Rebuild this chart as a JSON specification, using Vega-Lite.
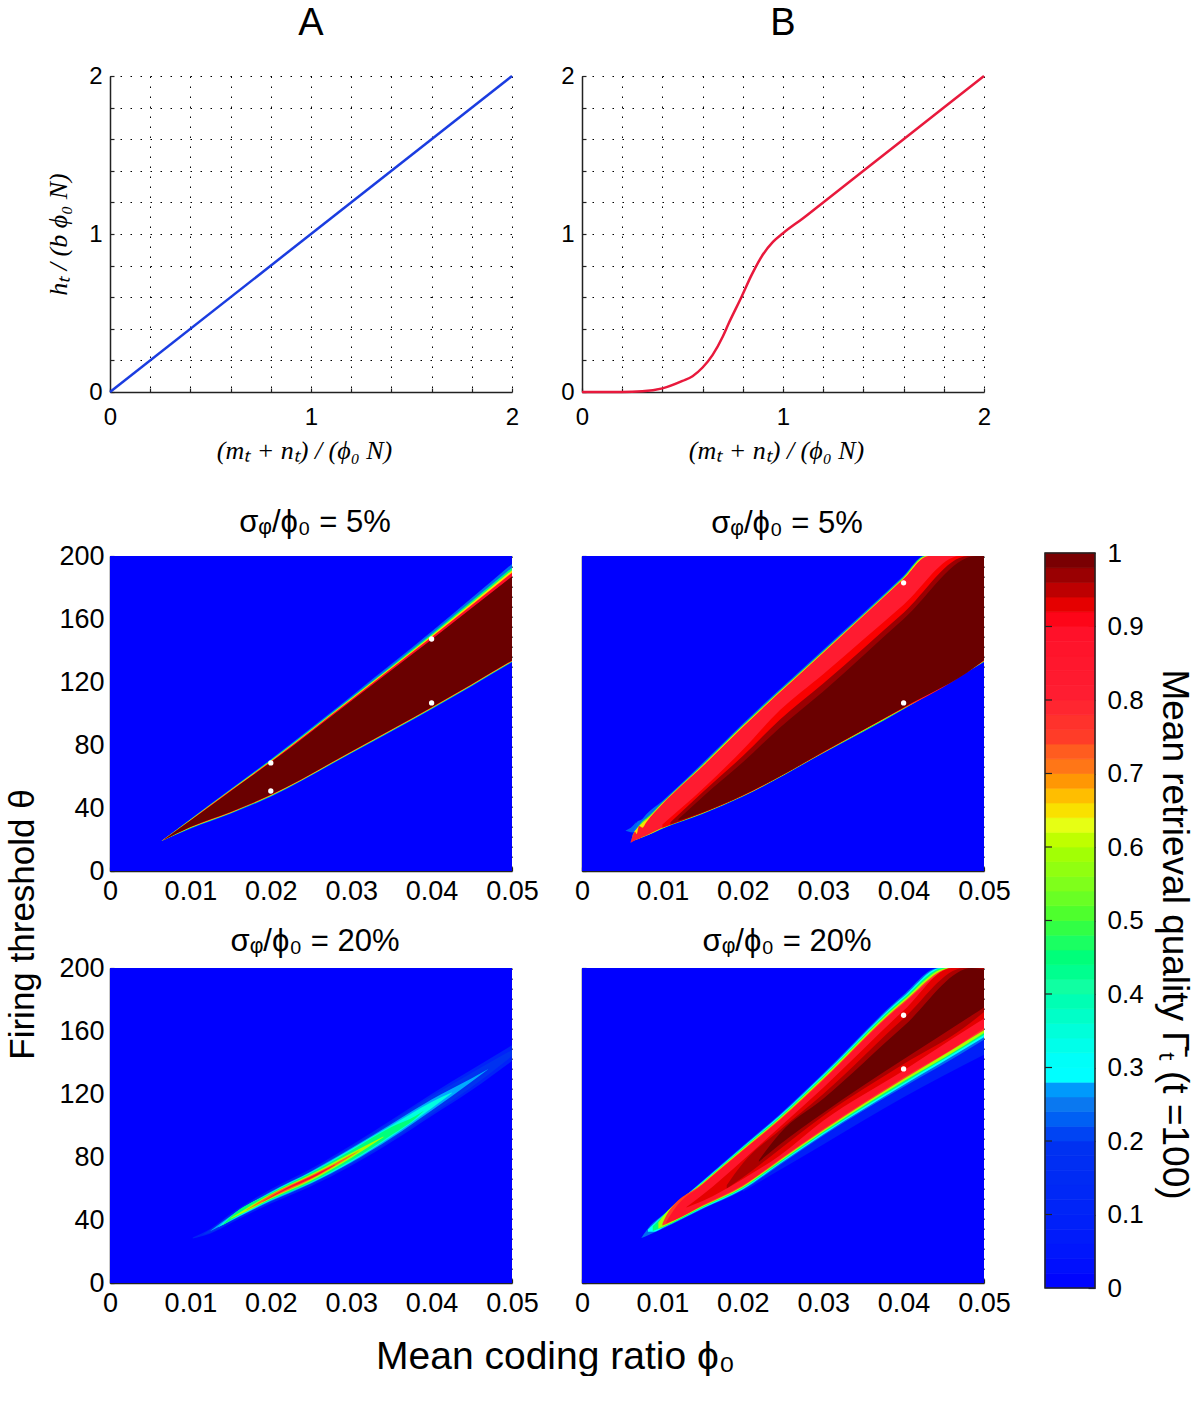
{
"$schema":"https://vega.github.io/schema/vega-lite/v6.json",
"background":"white",
"padding":{"left":5,"top":5,"right":0,"bottom":0},
"config":{"view":{"stroke":null},
"axis":{"labelFont":"Liberation Sans","labelFontSize":24,"labelColor":"#000","domainColor":"#222","domainWidth":1.5,"tickColor":"#222","tickWidth":1.2,"tickSize":-4,"gridColor":"#000","gridDash":[1.5,8.5],"gridWidth":1,"grid":true,"labelOverlap":false,"labelFlush":false,"zindex":1,"titleFontWeight":"normal","titleColor":"#000","labelBound":false},
"title":{"font":"Liberation Sans","fontWeight":"normal","color":"#000","fontSize":31,"anchor":"middle"}},
"datasets":{
"blank":[{}],
"lineA":[{"x":0,"y":0},{"x":1,"y":1},{"x":2,"y":2}],
"lineB":[{"x":0,"y":0},{"x":0.2,"y":0},{"x":0.3,"y":0.004},{"x":0.4,"y":0.023},{"x":0.5,"y":0.07},{"x":0.55,"y":0.1},{"x":0.6,"y":0.155},{"x":0.65,"y":0.235},{"x":0.7,"y":0.35},{"x":0.73,"y":0.435},{"x":0.794,"y":0.603},{"x":0.844,"y":0.741},{"x":0.9,"y":0.87},{"x":0.95,"y":0.95},{"x":1,"y":1.005},{"x":1.1,"y":1.1},{"x":1.2,"y":1.2},{"x":1.6,"y":1.6},{"x":2,"y":2}],
"c":[{"phi":0,"level":0,"low":0,"high":200},{"phi":0.05,"level":0,"low":0,"high":200},
{"phi":0.0064,"level":0.24,"low":19,"high":19},{"phi":0.01,"level":0.24,"low":26.8,"high":33},{"phi":0.015,"level":0.24,"low":36.3,"high":52},{"phi":0.02,"level":0.24,"low":47.2,"high":71},{"phi":0.03,"level":0.24,"low":74.7,"high":111},{"phi":0.04,"level":0.24,"low":102.7,"high":152},{"phi":0.05,"level":0.24,"low":132.5,"high":195},
{"phi":0.0064,"level":0.45,"low":19,"high":19},{"phi":0.01,"level":0.45,"low":27.1,"high":32.7},{"phi":0.015,"level":0.45,"low":36.6,"high":51.6},{"phi":0.02,"level":0.45,"low":47.5,"high":70.4},{"phi":0.03,"level":0.45,"low":75,"high":110},{"phi":0.04,"level":0.45,"low":103,"high":150.5},{"phi":0.05,"level":0.45,"low":132.8,"high":192.6},
{"phi":0.0064,"level":0.65,"low":19,"high":19},{"phi":0.01,"level":0.65,"low":27.4,"high":32.5},{"phi":0.015,"level":0.65,"low":36.9,"high":51.4},{"phi":0.02,"level":0.65,"low":47.8,"high":70},{"phi":0.03,"level":0.65,"low":75.3,"high":109.5},{"phi":0.04,"level":0.65,"low":103.3,"high":149.5},{"phi":0.05,"level":0.65,"low":133.1,"high":191},
{"phi":0.0064,"level":0.9,"low":19,"high":19},{"phi":0.01,"level":0.9,"low":27.7,"high":32.3},{"phi":0.015,"level":0.9,"low":37.2,"high":51.1},{"phi":0.02,"level":0.9,"low":48.1,"high":69.6},{"phi":0.03,"level":0.9,"low":75.6,"high":108.9},{"phi":0.04,"level":0.9,"low":103.6,"high":148.5},{"phi":0.05,"level":0.9,"low":133.4,"high":189.4},
{"phi":0.0066,"level":1,"low":19.5,"high":19.5},{"phi":0.01,"level":1,"low":28,"high":32},{"phi":0.015,"level":1,"low":37.5,"high":50.7},{"phi":0.02,"level":1,"low":48.4,"high":69},{"phi":0.03,"level":1,"low":75.9,"high":108},{"phi":0.04,"level":1,"low":103.9,"high":147},{"phi":0.05,"level":1,"low":133.7,"high":187}],
"d":[{"phi":0,"level":0,"low":0,"high":200},{"phi":0.05,"level":0,"low":0,"high":200},
{"phi":0.0054,"level":0.23,"low":25.5,"high":25.6},{"phi":0.0063,"level":0.23,"low":24.5,"high":28.5},{"phi":0.0067,"level":0.23,"low":25.5,"high":31},
{"phi":0.00605,"level":0.24,"low":18,"high":18.5},{"phi":0.0064,"level":0.24,"low":19,"high":24},{"phi":0.0068,"level":0.24,"low":20,"high":31},{"phi":0.0075,"level":0.24,"low":21.2,"high":33},{"phi":0.008,"level":0.24,"low":22.2,"high":36},{"phi":0.01,"level":0.24,"low":26.8,"high":44.5},{"phi":0.015,"level":0.24,"low":36.2,"high":68.5},{"phi":0.02,"level":0.24,"low":47.2,"high":93.5},{"phi":0.03,"level":0.24,"low":74.7,"high":140.5},{"phi":0.04,"level":0.24,"low":102.7,"high":187.5},{"phi":0.0426,"level":0.24,"low":110.5,"high":200},{"phi":0.05,"level":0.24,"low":132.5,"high":200},
{"phi":0.0063,"level":0.5,"low":19,"high":23},{"phi":0.0075,"level":0.5,"low":21.4,"high":31.5},{"phi":0.008,"level":0.5,"low":22.4,"high":33.5},{"phi":0.01,"level":0.5,"low":27,"high":43.5},{"phi":0.015,"level":0.5,"low":36.4,"high":67.5},{"phi":0.02,"level":0.5,"low":47.4,"high":92.5},{"phi":0.03,"level":0.5,"low":74.9,"high":139.5},{"phi":0.04,"level":0.5,"low":102.9,"high":186.7},{"phi":0.0427,"level":0.5,"low":111,"high":200},{"phi":0.05,"level":0.5,"low":132.8,"high":200},
{"phi":0.0065,"level":0.65,"low":19.7,"high":25},{"phi":0.0075,"level":0.65,"low":21.5,"high":30.5},{"phi":0.008,"level":0.65,"low":22.5,"high":32.5},{"phi":0.01,"level":0.65,"low":27.2,"high":43},{"phi":0.015,"level":0.65,"low":36.6,"high":67},{"phi":0.02,"level":0.65,"low":47.6,"high":92},{"phi":0.03,"level":0.65,"low":75.1,"high":139},{"phi":0.04,"level":0.65,"low":103.1,"high":186},{"phi":0.0429,"level":0.65,"low":111.2,"high":200},{"phi":0.05,"level":0.65,"low":133.2,"high":200},
{"phi":0.00605,"level":0.82,"low":18,"high":18.2},{"phi":0.0066,"level":0.82,"low":19.5,"high":25},{"phi":0.0068,"level":0.82,"low":20,"high":23.5},{"phi":0.0071,"level":0.82,"low":20.5,"high":28.5},{"phi":0.0075,"level":0.82,"low":21.6,"high":27.5},{"phi":0.008,"level":0.82,"low":22.6,"high":31},{"phi":0.01,"level":0.82,"low":27.4,"high":42.5},{"phi":0.015,"level":0.82,"low":36.8,"high":66.5},{"phi":0.02,"level":0.82,"low":47.8,"high":91.5},{"phi":0.03,"level":0.82,"low":75.3,"high":138.5},{"phi":0.04,"level":0.82,"low":103.3,"high":185.5},{"phi":0.0431,"level":0.82,"low":111.4,"high":200},{"phi":0.05,"level":0.82,"low":133.4,"high":200},
{"phi":0.01,"level":0.92,"low":27.5,"high":29.5},{"phi":0.015,"level":0.92,"low":37,"high":52},{"phi":0.02,"level":0.92,"low":48,"high":77},{"phi":0.0246,"level":0.92,"low":60,"high":102},{"phi":0.03,"level":0.92,"low":75.5,"high":125},{"phi":0.04,"level":0.92,"low":103.6,"high":169},{"phi":0.047,"level":0.92,"low":124,"high":200},{"phi":0.05,"level":0.92,"low":133.8,"high":200},
{"phi":0.011,"level":0.97,"low":29.5,"high":31},{"phi":0.015,"level":0.97,"low":37,"high":50},{"phi":0.02,"level":0.97,"low":48,"high":73},{"phi":0.0246,"level":0.97,"low":60,"high":96},{"phi":0.03,"level":0.97,"low":75.6,"high":119},{"phi":0.04,"level":0.97,"low":103.8,"high":164},{"phi":0.048,"level":0.97,"low":127,"high":200},{"phi":0.05,"level":0.97,"low":134,"high":200},
{"phi":0.012,"level":1,"low":32,"high":33},{"phi":0.015,"level":1,"low":37.3,"high":47},{"phi":0.02,"level":1,"low":48.2,"high":69},{"phi":0.0246,"level":1,"low":60.2,"high":91},{"phi":0.03,"level":1,"low":75.8,"high":114},{"phi":0.04,"level":1,"low":104,"high":160},{"phi":0.049,"level":1,"low":130,"high":200},{"phi":0.05,"level":1,"low":134,"high":200}],
"e":[{"phi":0,"level":0,"low":0,"high":200},{"phi":0.05,"level":0,"low":0,"high":200},
{"phi":0.0103,"level":0.1,"low":28.3,"high":28.9},{"phi":0.0125,"level":0.1,"low":31.5,"high":34.5},{"phi":0.015,"level":0.1,"low":38,"high":44},{"phi":0.02,"level":0.1,"low":50.5,"high":59.5},{"phi":0.025,"level":0.1,"low":61.5,"high":72.5},{"phi":0.03,"level":0.1,"low":74.5,"high":87.5},{"phi":0.035,"level":0.1,"low":89.5,"high":103.5},{"phi":0.04,"level":0.1,"low":106,"high":120},{"phi":0.045,"level":0.1,"low":122.5,"high":135.5},{"phi":0.05,"level":0.1,"low":141,"high":151},
{"phi":0.0115,"level":0.2,"low":30.5,"high":30.7},{"phi":0.0125,"level":0.2,"low":32,"high":34},{"phi":0.015,"level":0.2,"low":39,"high":43},{"phi":0.02,"level":0.2,"low":51.5,"high":58.5},{"phi":0.025,"level":0.2,"low":62.5,"high":71.5},{"phi":0.03,"level":0.2,"low":75.5,"high":86.5},{"phi":0.035,"level":0.2,"low":90.7,"high":102.3},{"phi":0.04,"level":0.2,"low":107.5,"high":118.5},{"phi":0.045,"level":0.2,"low":124.5,"high":133.5},{"phi":0.05,"level":0.2,"low":144,"high":148},
{"phi":0.0125,"level":0.28,"low":33,"high":33.2},{"phi":0.015,"level":0.28,"low":39.4,"high":42.6},{"phi":0.02,"level":0.28,"low":52,"high":58},{"phi":0.025,"level":0.28,"low":63.2,"high":70.8},{"phi":0.03,"level":0.28,"low":76.5,"high":85.5},{"phi":0.035,"level":0.28,"low":92,"high":101},{"phi":0.04,"level":0.28,"low":109.5,"high":116.5},{"phi":0.045,"level":0.28,"low":128,"high":130},{"phi":0.047,"level":0.28,"low":135.5,"high":135.7},
{"phi":0.0135,"level":0.34,"low":35.5,"high":35.7},{"phi":0.015,"level":0.34,"low":39.7,"high":42.3},{"phi":0.02,"level":0.34,"low":52.5,"high":57.5},{"phi":0.025,"level":0.34,"low":63.6,"high":70.4},{"phi":0.03,"level":0.34,"low":77,"high":85},{"phi":0.035,"level":0.34,"low":93,"high":100},{"phi":0.04,"level":0.34,"low":111,"high":115},{"phi":0.0425,"level":0.34,"low":120.5,"high":121},
{"phi":0.014,"level":0.45,"low":36.7,"high":37},{"phi":0.015,"level":0.45,"low":39.9,"high":42.1},{"phi":0.02,"level":0.45,"low":52.8,"high":57.2},{"phi":0.025,"level":0.45,"low":64,"high":70},{"phi":0.03,"level":0.45,"low":77.8,"high":84.2},{"phi":0.035,"level":0.45,"low":94,"high":99},{"phi":0.038,"level":0.45,"low":104.5,"high":106},{"phi":0.039,"level":0.45,"low":109,"high":109.2},
{"phi":0.015,"level":0.6,"low":40.8,"high":41.2},{"phi":0.017,"level":0.6,"low":45.5,"high":47.5},{"phi":0.02,"level":0.6,"low":53.5,"high":56.5},{"phi":0.025,"level":0.6,"low":65,"high":69},{"phi":0.03,"level":0.6,"low":79.4,"high":82.6},{"phi":0.034,"level":0.6,"low":92.5,"high":93},
{"phi":0.017,"level":0.72,"low":46.4,"high":46.6},{"phi":0.02,"level":0.72,"low":54,"high":56},{"phi":0.025,"level":0.72,"low":65.8,"high":68.2},{"phi":0.03,"level":0.72,"low":80.6,"high":81.4},{"phi":0.031,"level":0.72,"low":84,"high":84.2},
{"phi":0.019,"level":0.88,"low":51.6,"high":51.8},{"phi":0.022,"level":0.88,"low":59.5,"high":60.5},{"phi":0.025,"level":0.88,"low":66.4,"high":67.6},{"phi":0.028,"level":0.88,"low":75,"high":75.2}],
"f":[{"phi":0,"level":0,"low":0,"high":200},{"phi":0.05,"level":0,"low":0,"high":200},
{"phi":0.02,"level":0.08,"low":58,"high":59},{"phi":0.03,"level":0.08,"low":88,"high":93.5},{"phi":0.04,"level":0.08,"low":118,"high":124.5},{"phi":0.05,"level":0.08,"low":145,"high":154.5},
{"phi":0.0074,"level":0.24,"low":28.6,"high":28.8},{"phi":0.0085,"level":0.24,"low":31,"high":36.5},{"phi":0.01,"level":0.24,"low":34.5,"high":43},{"phi":0.015,"level":0.24,"low":47,"high":65},{"phi":0.02,"level":0.24,"low":59,"high":87},{"phi":0.0246,"level":0.24,"low":75,"high":107},{"phi":0.03,"level":0.24,"low":93.5,"high":133},{"phi":0.04,"level":0.24,"low":124.5,"high":183},{"phi":0.0443,"level":0.24,"low":137,"high":200},{"phi":0.05,"level":0.24,"low":154.5,"high":200},
{"phi":0.0082,"level":0.3,"low":32.5,"high":34},{"phi":0.009,"level":0.3,"low":32.5,"high":38},{"phi":0.01,"level":0.3,"low":34.9,"high":42.6},{"phi":0.015,"level":0.3,"low":47.5,"high":64.5},{"phi":0.02,"level":0.3,"low":59.6,"high":86.4},{"phi":0.0246,"level":0.3,"low":75.7,"high":106.3},{"phi":0.03,"level":0.3,"low":94.3,"high":132.2},{"phi":0.04,"level":0.3,"low":125.7,"high":181.9},{"phi":0.0446,"level":0.3,"low":139.5,"high":200},{"phi":0.05,"level":0.3,"low":156,"high":200},
{"phi":0.0088,"level":0.45,"low":33,"high":36},{"phi":0.01,"level":0.45,"low":35.2,"high":42.3},{"phi":0.015,"level":0.45,"low":48,"high":64},{"phi":0.02,"level":0.45,"low":60.2,"high":85.8},{"phi":0.0246,"level":0.45,"low":76.4,"high":105.6},{"phi":0.03,"level":0.45,"low":95.2,"high":131.3},{"phi":0.04,"level":0.45,"low":126.9,"high":180.8},{"phi":0.045,"level":0.45,"low":142,"high":200},{"phi":0.05,"level":0.45,"low":157.4,"high":200},
{"phi":0.0095,"level":0.6,"low":34.5,"high":38.5},{"phi":0.01,"level":0.6,"low":35.6,"high":41.9},{"phi":0.015,"level":0.6,"low":48.4,"high":63.6},{"phi":0.02,"level":0.6,"low":60.8,"high":85.2},{"phi":0.0246,"level":0.6,"low":77.2,"high":104.8},{"phi":0.03,"level":0.6,"low":96,"high":130.5},{"phi":0.04,"level":0.6,"low":128.1,"high":179.7},{"phi":0.0455,"level":0.6,"low":144.5,"high":200},{"phi":0.05,"level":0.6,"low":158.8,"high":200},
{"phi":0.01,"level":0.75,"low":36.5,"high":37.5},{"phi":0.0105,"level":0.75,"low":37.5,"high":43},{"phi":0.015,"level":0.75,"low":49,"high":63},{"phi":0.02,"level":0.75,"low":61.5,"high":84.5},{"phi":0.0246,"level":0.75,"low":78,"high":104},{"phi":0.03,"level":0.75,"low":97,"high":129.5},{"phi":0.04,"level":0.75,"low":129.5,"high":178.4},{"phi":0.046,"level":0.75,"low":148,"high":200},{"phi":0.05,"level":0.75,"low":160.5,"high":200},
{"phi":0.0105,"level":0.87,"low":38,"high":39},{"phi":0.0115,"level":0.87,"low":40,"high":47},{"phi":0.015,"level":0.87,"low":49.4,"high":62.6},{"phi":0.02,"level":0.87,"low":62,"high":84},{"phi":0.0246,"level":0.87,"low":78.6,"high":103.4},{"phi":0.03,"level":0.87,"low":97.7,"high":128.8},{"phi":0.04,"level":0.87,"low":130.5,"high":177.5},{"phi":0.0465,"level":0.87,"low":150,"high":200},{"phi":0.05,"level":0.87,"low":161.7,"high":200},
{"phi":0.013,"level":0.93,"low":48,"high":48.2},{"phi":0.015,"level":0.93,"low":52,"high":56},{"phi":0.02,"level":0.93,"low":66,"high":78},{"phi":0.0246,"level":0.93,"low":81,"high":99},{"phi":0.03,"level":0.93,"low":103,"high":124},{"phi":0.04,"level":0.93,"low":135,"high":173},{"phi":0.046,"level":0.93,"low":155,"high":200},{"phi":0.05,"level":0.93,"low":168,"high":200},
{"phi":0.018,"level":0.96,"low":60,"high":62},{"phi":0.02,"level":0.96,"low":67,"high":76},{"phi":0.0246,"level":0.96,"low":85,"high":97},{"phi":0.03,"level":0.96,"low":106,"high":120},{"phi":0.04,"level":0.96,"low":139,"high":168},{"phi":0.0475,"level":0.96,"low":162,"high":200},{"phi":0.05,"level":0.96,"low":172,"high":200},
{"phi":0.022,"level":1,"low":77,"high":78},{"phi":0.0246,"level":1,"low":88,"high":95},{"phi":0.03,"level":1,"low":108,"high":117},{"phi":0.04,"level":1,"low":142,"high":163},{"phi":0.0485,"level":1,"low":170,"high":200},{"phi":0.05,"level":1,"low":175,"high":199}],
"ptsC":[{"phi":0.02,"theta":68.6},{"phi":0.02,"theta":50.8},{"phi":0.04,"theta":147.3},{"phi":0.04,"theta":106.7}],
"ptsD":[{"phi":0.04,"theta":183},{"phi":0.04,"theta":106.7}],
"ptsF":[{"phi":0.04,"theta":170},{"phi":0.04,"theta":135.9}],
"frame":[{"lo":0,"hi":1}],
"barTicks":[{"v":0.1},{"v":0.2},{"v":0.3},{"v":0.4},{"v":0.5},{"v":0.6},{"v":0.7},{"v":0.8},{"v":0.9}],
"bar":[{"lo":0,"hi":0.02,"mid":0.01},{"lo":0.02,"hi":0.04,"mid":0.03},{"lo":0.04,"hi":0.06,"mid":0.05},{"lo":0.06,"hi":0.08,"mid":0.07},{"lo":0.08,"hi":0.1,"mid":0.09},{"lo":0.1,"hi":0.12,"mid":0.11},{"lo":0.12,"hi":0.14,"mid":0.13},{"lo":0.14,"hi":0.16,"mid":0.15},{"lo":0.16,"hi":0.18,"mid":0.17},{"lo":0.18,"hi":0.2,"mid":0.19},{"lo":0.2,"hi":0.22,"mid":0.21},{"lo":0.22,"hi":0.24,"mid":0.23},{"lo":0.24,"hi":0.26,"mid":0.25},{"lo":0.26,"hi":0.28,"mid":0.27},{"lo":0.28,"hi":0.3,"mid":0.3},{"lo":0.3,"hi":0.32,"mid":0.31},{"lo":0.32,"hi":0.34,"mid":0.33},{"lo":0.34,"hi":0.36,"mid":0.35},{"lo":0.36,"hi":0.38,"mid":0.37},{"lo":0.38,"hi":0.4,"mid":0.39},{"lo":0.4,"hi":0.42,"mid":0.41},{"lo":0.42,"hi":0.44,"mid":0.43},{"lo":0.44,"hi":0.46,"mid":0.45},{"lo":0.46,"hi":0.48,"mid":0.47},{"lo":0.48,"hi":0.5,"mid":0.49},{"lo":0.5,"hi":0.52,"mid":0.51},{"lo":0.52,"hi":0.54,"mid":0.53},{"lo":0.54,"hi":0.56,"mid":0.55},{"lo":0.56,"hi":0.58,"mid":0.57},{"lo":0.58,"hi":0.6,"mid":0.59},{"lo":0.6,"hi":0.62,"mid":0.61},{"lo":0.62,"hi":0.64,"mid":0.63},{"lo":0.64,"hi":0.66,"mid":0.65},{"lo":0.66,"hi":0.68,"mid":0.67},{"lo":0.68,"hi":0.7,"mid":0.69},{"lo":0.7,"hi":0.72,"mid":0.71},{"lo":0.72,"hi":0.74,"mid":0.73},{"lo":0.74,"hi":0.76,"mid":0.75},{"lo":0.76,"hi":0.78,"mid":0.77},{"lo":0.78,"hi":0.8,"mid":0.79},{"lo":0.8,"hi":0.82,"mid":0.81},{"lo":0.82,"hi":0.84,"mid":0.83},{"lo":0.84,"hi":0.86,"mid":0.85},{"lo":0.86,"hi":0.88,"mid":0.87},{"lo":0.88,"hi":0.9,"mid":0.89},{"lo":0.9,"hi":0.92,"mid":0.91},{"lo":0.92,"hi":0.94,"mid":0.93},{"lo":0.94,"hi":0.96,"mid":0.95},{"lo":0.96,"hi":0.98,"mid":0.97},{"lo":0.98,"hi":1,"mid":0.99}]
},
"bounds":"flush",
"spacing":{"row":20,"column":70},
"columns":3,
"concat":[
{"width":402,"height":316,"title":{"text":"A","fontSize":38,"offset":21},"data":{"name":"lineA"},"mark":{"type":"line","color":"#1a3ce0","strokeWidth":2.5,"clip":false},
"encoding":{"x":{"field":"x","type":"quantitative","scale":{"domain":[0,2],"nice":false},"axis":{"title":"(mₜ + nₜ) / (ϕ₀ N)","titleFont":"Liberation Serif","titleFontStyle":"italic","titleFontSize":26,"titleX":194,"titleY":66,"titleBaseline":"alphabetic","values":[0,0.2,0.4,0.6,0.8,1,1.2,1.4,1.6,1.8,2],"labelExpr":"round(datum.value*10)%10==0?format(datum.value,'d'):''","labelPadding":17}},
"y":{"field":"y","type":"quantitative","scale":{"domain":[0,2],"nice":false},"axis":{"title":"hₜ / (b ϕ₀ N)","titleFont":"Liberation Serif","titleFontStyle":"italic","titleFontSize":26,"titleX":-44,"titleY":158,"titleBaseline":"alphabetic","values":[0,0.2,0.4,0.6,0.8,1,1.2,1.4,1.6,1.8,2],"labelExpr":"round(datum.value*10)%10==0?format(datum.value,'d'):''","labelPadding":12}}}},
{"width":402,"height":316,"title":{"text":"B","fontSize":38,"offset":21},"data":{"name":"lineB"},"mark":{"type":"line","color":"#e8193c","strokeWidth":2.5,"interpolate":"monotone"},
"encoding":{"x":{"field":"x","type":"quantitative","scale":{"domain":[0,2],"nice":false},"axis":{"title":"(mₜ + nₜ) / (ϕ₀ N)","titleFont":"Liberation Serif","titleFontStyle":"italic","titleFontSize":26,"titleX":194,"titleY":66,"titleBaseline":"alphabetic","values":[0,0.2,0.4,0.6,0.8,1,1.2,1.4,1.6,1.8,2],"labelExpr":"round(datum.value*10)%10==0?format(datum.value,'d'):''","labelPadding":17}},
"y":{"field":"y","type":"quantitative","scale":{"domain":[0,2],"nice":false},"axis":{"title":null,"values":[0,0.2,0.4,0.6,0.8,1,1.2,1.4,1.6,1.8,2],"labelExpr":"round(datum.value*10)%10==0?format(datum.value,'d'):''","labelPadding":12}}}},
{"width":41,"height":316,"data":{"name":"blank"},"mark":{"type":"rect","opacity":0},"encoding":{}},
{"width":402,"height":124,"data":{"name":"blank"},"mark":{"type":"rect","opacity":0},"encoding":{}},
{"width":402,"height":124,"data":{"name":"blank"},"mark":{"type":"rect","opacity":0},"encoding":{}},
{"width":41,"height":124,"data":{"name":"blank"},"mark":{"type":"rect","opacity":0},"encoding":{}},
{"width":402,"height":315,"title":{"text":"σᵩ/ϕ₀ = 5%","offset":3,"dx":4},"layer":[
{"data":{"name":"c"},"mark":{"type":"area","interpolate":"monotone"},"encoding":{"x":{"field":"phi","type":"quantitative","scale":{"domain":[0,0.05],"nice":false},"axis":{"title":null,"labelFontSize":27,"gridOpacity":0.6,"values":[0,0.005,0.01,0.015,0.02,0.025,0.03,0.035,0.04,0.045,0.05],"labelExpr":"round(datum.value*1000)%10==0?(datum.value==0?'0':format(datum.value,'.2f')):''","labelPadding":11}},"y":{"field":"low","type":"quantitative","scale":{"domain":[0,200],"nice":false},"axis":{"title":"Firing threshold θ","titleFont":"Liberation Sans","titleFontSize":35,"titleX":-77,"titleY":368,"titleBaseline":"alphabetic","labelFontSize":27,"gridOpacity":0.6,"values":[0,20,40,60,80,100,120,140,160,180,200],"labelExpr":"datum.value%40==0?datum.label:''","labelPadding":10}},"y2":{"field":"high"},"detail":{"field":"level"},"color":{"field":"level","type":"quantitative","legend":null,"scale":{"domain":[0,0.2,0.25,0.28,0.3,0.4,0.5,0.6,0.63,0.66,0.7,0.75,0.8,0.9,0.92,0.96,1],"range":["#0000ff","#0032f0","#0a78f0","#00aaff","#00ffff","#1effaa","#3cff32","#aaff00","#e6ff14","#ffd200","#ff8214","#ff3c28","#ff1e32","#ff0f28","#fa0000","#aa0000","#6a0000"]}}}},
{"data":{"name":"ptsC"},"mark":{"type":"point","filled":true,"color":"white","size":28,"opacity":1},"encoding":{"x":{"field":"phi","type":"quantitative"},"y":{"field":"theta","type":"quantitative"}}}
]},
{"width":402,"height":315,"title":{"text":"σᵩ/ϕ₀ = 5%","offset":15,"dx":4},"layer":[
{"data":{"name":"d"},"mark":{"type":"area","interpolate":"monotone"},"encoding":{"x":{"field":"phi","type":"quantitative","scale":{"domain":[0,0.05],"nice":false},"axis":{"title":null,"labelFontSize":27,"gridOpacity":0.6,"values":[0,0.005,0.01,0.015,0.02,0.025,0.03,0.035,0.04,0.045,0.05],"labelExpr":"round(datum.value*1000)%10==0?(datum.value==0?'0':format(datum.value,'.2f')):''","labelPadding":11}},"y":{"field":"low","type":"quantitative","scale":{"domain":[0,200],"nice":false},"axis":{"title":null,"labels":false,"gridOpacity":0.6,"values":[0,20,40,60,80,100,120,140,160,180,200]}},"y2":{"field":"high"},"detail":{"field":"level"},"color":{"field":"level","type":"quantitative","legend":null,"scale":{"domain":[0,0.2,0.25,0.28,0.3,0.4,0.5,0.6,0.63,0.66,0.7,0.75,0.8,0.9,0.92,0.96,1],"range":["#0000ff","#0032f0","#0a78f0","#00aaff","#00ffff","#1effaa","#3cff32","#aaff00","#e6ff14","#ffd200","#ff8214","#ff3c28","#ff1e32","#ff0f28","#fa0000","#aa0000","#6a0000"]}}}},
{"data":{"name":"ptsD"},"mark":{"type":"point","filled":true,"color":"white","size":28,"opacity":1},"encoding":{"x":{"field":"phi","type":"quantitative"},"y":{"field":"theta","type":"quantitative"}}}
]},
{"width":41,"height":315,"layer":[
{"data":{"name":"bar"},"mark":{"type":"rect","strokeWidth":0.7},"encoding":{"x":{"datum":0,"type":"quantitative","scale":{"domain":[0,1],"range":[-9,41]},"axis":null},"x2":{"datum":1},"y":{"field":"lo","type":"quantitative","scale":{"domain":[0,1],"nice":false,"range":[732,-3]},"axis":{"orient":"right","title":"Mean retrieval quality Γ̄ₜ (t =100)","titleFont":"Liberation Sans","titleFontSize":37,"titleAngle":90,"titleX":67,"titleY":378,"titleBaseline":"alphabetic","labelFontSize":26,"labelOverlap":false,"labelSeparation":0,"tickCount":11,"domain":false,"grid":false,"tickSize":-7,"values":[0,0.1,0.2,0.3,0.4,0.5,0.6,0.7,0.8,0.9,1],"labelExpr":"format(datum.value,'~g')","labelPadding":19}},"y2":{"field":"hi"},"color":{"field":"mid","type":"quantitative","legend":null,"scale":{"domain":[0,0.2,0.25,0.28,0.3,0.4,0.5,0.6,0.63,0.66,0.7,0.75,0.8,0.9,0.92,0.96,1],"range":["#0000ff","#0032f0","#0a78f0","#00aaff","#00ffff","#1effaa","#3cff32","#aaff00","#e6ff14","#ffd200","#ff8214","#ff3c28","#ff1e32","#ff0f28","#fa0000","#aa0000","#6a0000"]}},"stroke":{"field":"mid","type":"quantitative","legend":null,"scale":{"domain":[0,0.2,0.25,0.28,0.3,0.4,0.5,0.6,0.63,0.66,0.7,0.75,0.8,0.9,0.92,0.96,1],"range":["#0000ff","#0032f0","#0a78f0","#00aaff","#00ffff","#1effaa","#3cff32","#aaff00","#e6ff14","#ffd200","#ff8214","#ff3c28","#ff1e32","#ff0f28","#fa0000","#aa0000","#6a0000"]}}}},
{"data":{"name":"frame"},"mark":{"type":"rect","fill":"transparent","stroke":"#222","strokeWidth":1.5},"encoding":{"x":{"datum":0,"type":"quantitative"},"x2":{"datum":1},"y":{"field":"lo","type":"quantitative"},"y2":{"field":"hi"}}},
{"data":{"name":"barTicks"},"mark":{"type":"rule","color":"#222","strokeWidth":1.2},"encoding":{"x":{"datum":0,"type":"quantitative"},"x2":{"datum":0.14},"y":{"field":"v","type":"quantitative"}}}
]},
{"width":402,"height":57,"data":{"name":"blank"},"mark":{"type":"rect","opacity":0},"encoding":{}},
{"width":402,"height":57,"data":{"name":"blank"},"mark":{"type":"rect","opacity":0},"encoding":{}},
{"width":41,"height":57,"data":{"name":"blank"},"mark":{"type":"rect","opacity":0},"encoding":{}},
{"width":402,"height":315,"title":{"text":"σᵩ/ϕ₀ = 20%","offset":-4,"dx":4},"layer":[
{"data":{"name":"e"},"mark":{"type":"area","interpolate":"monotone"},"encoding":{"x":{"field":"phi","type":"quantitative","scale":{"domain":[0,0.05],"nice":false},"axis":{"title":"Mean coding ratio ϕ₀","titleFont":"Liberation Sans","titleFontSize":39,"titleX":445,"titleY":85,"titleBaseline":"alphabetic","labelFontSize":27,"gridOpacity":0.6,"values":[0,0.005,0.01,0.015,0.02,0.025,0.03,0.035,0.04,0.045,0.05],"labelExpr":"round(datum.value*1000)%10==0?(datum.value==0?'0':format(datum.value,'.2f')):''","labelPadding":11}},"y":{"field":"low","type":"quantitative","scale":{"domain":[0,200],"nice":false},"axis":{"title":null,"labelFontSize":27,"gridOpacity":0.6,"values":[0,20,40,60,80,100,120,140,160,180,200],"labelExpr":"datum.value%40==0?datum.label:''","labelPadding":10}},"y2":{"field":"high"},"detail":{"field":"level"},"color":{"field":"level","type":"quantitative","legend":null,"scale":{"domain":[0,0.2,0.25,0.28,0.3,0.4,0.5,0.6,0.63,0.66,0.7,0.75,0.8,0.9,0.92,0.96,1],"range":["#0000ff","#0032f0","#0a78f0","#00aaff","#00ffff","#1effaa","#3cff32","#aaff00","#e6ff14","#ffd200","#ff8214","#ff3c28","#ff1e32","#ff0f28","#fa0000","#aa0000","#6a0000"]}}}}
]},
{"width":402,"height":315,"title":{"text":"σᵩ/ϕ₀ = 20%","offset":9,"dx":4},"layer":[
{"data":{"name":"f"},"mark":{"type":"area","interpolate":"monotone"},"encoding":{"x":{"field":"phi","type":"quantitative","scale":{"domain":[0,0.05],"nice":false},"axis":{"title":null,"labelFontSize":27,"gridOpacity":0.6,"values":[0,0.005,0.01,0.015,0.02,0.025,0.03,0.035,0.04,0.045,0.05],"labelExpr":"round(datum.value*1000)%10==0?(datum.value==0?'0':format(datum.value,'.2f')):''","labelPadding":11}},"y":{"field":"low","type":"quantitative","scale":{"domain":[0,200],"nice":false},"axis":{"title":null,"labels":false,"gridOpacity":0.6,"values":[0,20,40,60,80,100,120,140,160,180,200]}},"y2":{"field":"high"},"detail":{"field":"level"},"color":{"field":"level","type":"quantitative","legend":null,"scale":{"domain":[0,0.2,0.25,0.28,0.3,0.4,0.5,0.6,0.63,0.66,0.7,0.75,0.8,0.9,0.92,0.96,1],"range":["#0000ff","#0032f0","#0a78f0","#00aaff","#00ffff","#1effaa","#3cff32","#aaff00","#e6ff14","#ffd200","#ff8214","#ff3c28","#ff1e32","#ff0f28","#fa0000","#aa0000","#6a0000"]}}}},
{"data":{"name":"ptsF"},"mark":{"type":"point","filled":true,"color":"white","size":28,"opacity":1},"encoding":{"x":{"field":"phi","type":"quantitative"},"y":{"field":"theta","type":"quantitative"}}}
]},
{"width":41,"height":315,"data":{"name":"blank"},"mark":{"type":"rect","opacity":0},"encoding":{}}
]
}
